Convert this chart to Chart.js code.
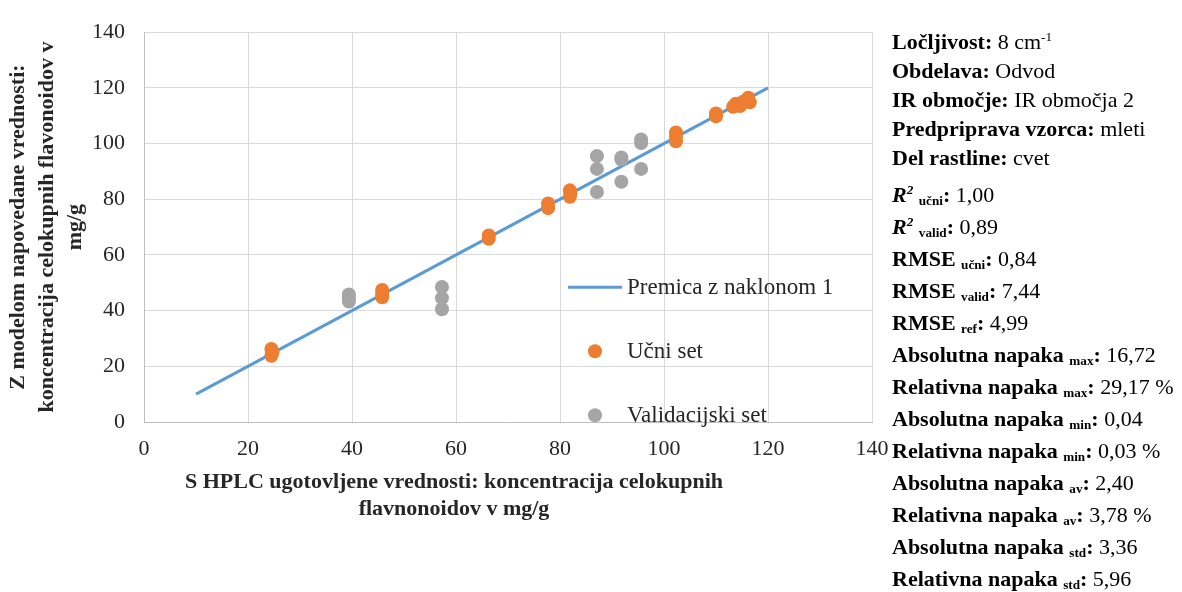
<!DOCTYPE html>
<html>
<head>
<meta charset="utf-8">
<script src="https://cdn.jsdelivr.net/npm/chart.js@4/dist/chart.umd.min.js"></script>
<style>
  html, body { margin: 0; padding: 0; background: #fff; }
  #wrap { position: relative; width: 1182px; height: 592px; overflow: hidden; }
  #panel {
    position: absolute; left: 892px; top: 27px;
    font-family: "Liberation Serif", "Times New Roman", serif; font-size: 22px; color: #000;
  }
  #panel .l { height: 29px; line-height: 29px; white-space: nowrap; }
  #panel .s { height: 32px; line-height: 32px; }
  #panel .gap { margin-top: 7px; }
  #panel sub, #panel sup { font-size: 60%; line-height: 0; }
  #panel sub { vertical-align: -0.25em; }
</style>
</head>
<body>
<div id="wrap">
  <canvas id="chart" width="1182" height="592"></canvas>
  <div id="panel">
    <div class="l"><b>Ločljivost:</b> 8 cm<sup>-1</sup></div>
    <div class="l"><b>Obdelava:</b> Odvod</div>
    <div class="l"><b>IR območje:</b> IR območja 2</div>
    <div class="l"><b>Predpriprava vzorca:</b> mleti</div>
    <div class="l"><b>Del rastline:</b> cvet</div>
    <div class="l s gap"><b><i>R<sup>2</sup></i> <sub>učni</sub>:</b> 1,00</div>
    <div class="l s"><b><i>R<sup>2</sup></i> <sub>valid</sub>:</b> 0,89</div>
    <div class="l s"><b>RMSE <sub>učni</sub>:</b> 0,84</div>
    <div class="l s"><b>RMSE <sub>valid</sub>:</b> 7,44</div>
    <div class="l s"><b>RMSE <sub>ref</sub>:</b> 4,99</div>
    <div class="l s"><b>Absolutna napaka <sub>max</sub>:</b> 16,72</div>
    <div class="l s"><b>Relativna napaka <sub>max</sub>:</b> 29,17 %</div>
    <div class="l s"><b>Absolutna napaka <sub>min</sub>:</b> 0,04</div>
    <div class="l s"><b>Relativna napaka <sub>min</sub>:</b> 0,03 %</div>
    <div class="l s"><b>Absolutna napaka <sub>av</sub>:</b> 2,40</div>
    <div class="l s"><b>Relativna napaka <sub>av</sub>:</b> 3,78 %</div>
    <div class="l s"><b>Absolutna napaka <sub>std</sub>:</b> 3,36</div>
    <div class="l s"><b>Relativna napaka <sub>std</sub>:</b> 5,96</div>
  </div>
</div>
<script>
// reference line (slope 1)
const lineX = [10, 120];
const lineY = [10, 120];

// training set (Učni set)
const trainX = [24.5, 24.5, 24.7, 45.8, 45.8, 45.8, 66.3, 66.3, 77.7, 77.7, 81.9, 81.9, 82.0,
  102.3, 102.3, 102.3, 110.0, 110.0, 113.3, 113.8, 114.6, 115.2, 116.2, 116.5, 116.2];
const trainY = [26.2, 23.8, 25.0, 47.4, 44.8, 46.0, 67.0, 65.8, 78.5, 76.8, 83.2, 80.9, 82.0,
  104.0, 100.8, 102.5, 110.8, 109.8, 113.2, 114.3, 113.5, 115.0, 116.5, 114.8, 115.6];

// validation set (Validacijski set)
const validX = [39.4, 39.4, 39.4, 57.3, 57.3, 57.3, 87.1, 87.1, 87.1, 91.8, 91.8, 91.8, 95.6, 95.6, 95.6];
const validY = [45.8, 43.3, 44.5, 48.5, 44.5, 40.5, 95.5, 90.9, 82.6, 94.3, 86.3, 95.0, 101.5, 100.2, 90.9];

const axisTicks = [0, 20, 40, 60, 80, 100, 120, 140];

const xTitle = ['S HPLC ugotovljene vrednosti: koncentracija celokupnih', 'flavnonoidov v mg/g'];
const yTitle = ['Z modelom napovedane vrednosti:', 'koncentracija celokupnih flavonoidov v', 'mg/g'];

const toPoints = (xs, ys) => xs.map((x, i) => ({ x: x, y: ys[i] }));

const serif = '"Liberation Serif", "Times New Roman", serif';
const textColor = '#262626';

// x axis title is centred left of the plot centre, so draw it by hand
const xTitlePlugin = {
    id: 'xTitle',
    afterDraw(chart) {
        const { ctx, chartArea } = chart;
        ctx.save();
        ctx.font = 'bold 22px ' + serif;
        ctx.fillStyle = textColor;
        ctx.textAlign = 'center';
        ctx.textBaseline = 'middle';
        xTitle.forEach((t, i) => {
            ctx.fillText(t, chartArea.left + 310, chartArea.bottom + 60 + i * 27);
        });
        ctx.restore();
    }
};

// legend sits inside the plot area
const innerLegend = {
    id: 'innerLegend',
    afterDraw(chart) {
        const { ctx, chartArea } = chart;
        const x0 = chartArea.left + 424;
        const sets = chart.data.datasets;
        ctx.save();
        ctx.font = '23px ' + serif;
        ctx.textBaseline = 'middle';
        ctx.textAlign = 'left';
        sets.forEach((ds, i) => {
            const y = chartArea.top + 255 + i * 64;
            if (ds.showLine) {
                ctx.strokeStyle = ds.borderColor;
                ctx.lineWidth = ds.borderWidth;
                ctx.beginPath();
                ctx.moveTo(x0, y);
                ctx.lineTo(x0 + 54, y);
                ctx.stroke();
            } else {
                ctx.fillStyle = ds.backgroundColor;
                ctx.beginPath();
                ctx.arc(x0 + 27, y, ds.pointRadius, 0, Math.PI * 2);
                ctx.fill();
            }
            ctx.fillStyle = textColor;
            ctx.fillText(ds.label, x0 + 59, y + 1);
        });
        ctx.restore();
    }
};

new Chart(document.getElementById('chart'), {
    type: 'scatter',
    data: {
        datasets: [
            {
                label: 'Premica z naklonom 1',
                data: toPoints(lineX, lineY),
                showLine: true,
                borderColor: '#5B9BD5',
                backgroundColor: '#5B9BD5',
                borderWidth: 3,
                pointRadius: 0,
                order: 3
            },
            {
                label: 'Učni set',
                data: toPoints(trainX, trainY),
                backgroundColor: '#ED7D31',
                borderWidth: 0,
                pointRadius: 7,
                order: 1
            },
            {
                label: 'Validacijski set',
                data: toPoints(validX, validY),
                backgroundColor: '#A5A5A5',
                borderWidth: 0,
                pointRadius: 7,
                order: 2
            }
        ]
    },
    options: {
        responsive: false,
        animation: false,
        devicePixelRatio: 1,
        layout: { padding: { top: 23, right: 310, bottom: 0, left: 0 } },
        plugins: {
            legend: { display: false },
            tooltip: { enabled: false }
        },
        scales: {
            x: {
                type: 'linear',
                min: 0,
                max: 140,
                afterBuildTicks: (scale) => { scale.ticks = axisTicks.map(v => ({ value: v })); },
                afterFit: (scale) => { scale.height = 170; },
                grid: { color: '#D9D9D9', drawTicks: false },
                border: { color: '#BFBFBF' },
                ticks: { padding: 14, color: textColor, font: { family: serif, size: 22 } }
            },
            y: {
                type: 'linear',
                min: 0,
                max: 140,
                afterBuildTicks: (scale) => { scale.ticks = axisTicks.map(v => ({ value: v })); },
                afterFit: (scale) => { scale.width = 144; },
                grid: { color: '#D9D9D9', drawTicks: false },
                border: { color: '#BFBFBF' },
                ticks: { padding: 19, color: textColor, font: { family: serif, size: 22 } },
                title: {
                    display: true,
                    text: yTitle,
                    color: textColor,
                    padding: { top: 4, bottom: 0 },
                    font: { family: serif, size: 22, weight: 'bold', lineHeight: 1.3 }
                }
            }
        }
    },
    plugins: [xTitlePlugin, innerLegend]
});
</script>
</body>
</html>
